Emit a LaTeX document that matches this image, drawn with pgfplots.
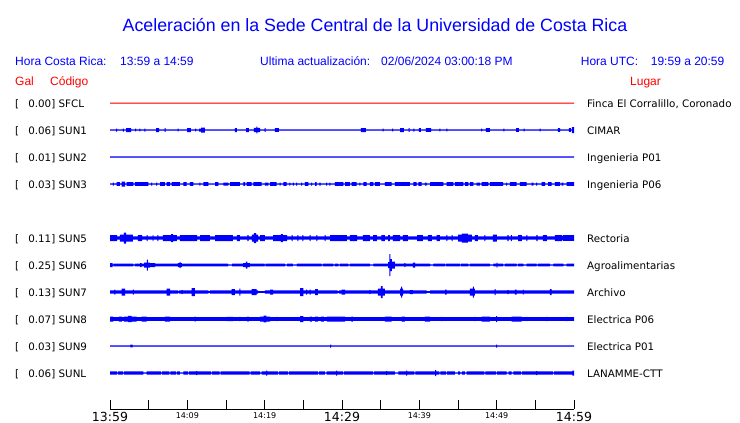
\documentclass[border=0pt]{standalone}
\usepackage{fontspec}
\setmainfont{DejaVu Sans}
\newfontfamily\helv{Liberation Sans}
\usepackage{pgfplots}
\usepackage{pgfplotstable}
\pgfplotsset{compat=1.18}

% half width of each trace (px) from time t (min) on, held until the next row
\pgfplotstableread{
t a
0 0.5
60 0.5
}\tsfcl
\pgfplotstableread{
t a
0 0.65
0.80 1.5
0.93 0.65
1.66 1.5
1.78 0.65
2.07 2
2.72 0.65
3.26 1.3
3.39 0.65
3.81 1.3
3.94 0.65
4.46 1.5
4.59 0.65
5.95 2
6.34 0.65
7.05 1.8
7.18 0.65
8.73 1.3
8.86 0.65
9.96 2
10.47 0.65
11.02 1.3
11.15 0.65
11.51 1.5
11.77 2.5
12.28 0.65
16.16 2
16.42 0.65
17.59 2
17.97 0.65
18.62 2.2
18.94 3.3
19.07 2.2
19.40 0.65
19.98 1.8
20.11 0.65
21.33 1.8
21.85 0.65
32.45 2
33.10 0.65
35.24 1.3
35.37 0.65
36.49 1.3
36.62 0.65
37.50 2
38.01 0.65
38.60 1.8
38.73 0.65
39.24 1.5
39.37 0.65
39.95 1.8
40.21 0.65
40.86 1.8
41.51 0.65
42.60 1.3
42.73 0.65
43.51 1.3
43.64 0.65
48.00 1.3
48.13 0.65
48.62 1.8
49.13 0.65
50.88 1.3
51.01 0.65
52.50 1.8
52.88 0.65
53.47 1.3
53.60 0.65
55.54 1.3
55.67 0.65
57.93 1.8
58.19 0.65
59.35 1.8
59.61 0.65
59.74 3
60 3
}\tsunone
\pgfplotstableread{
t a
0 0.65
60 0.65
}\tsuntwo
\pgfplotstableread{
t a
0 0.65
0.36 1.5
0.49 0.65
0.87 1.8
1.29 0.65
1.51 2.5
1.94 0.65
2.16 1.8
3.01 0.65
3.23 1.8
4.95 0.65
5.33 1.5
5.46 0.65
5.97 1.5
6.10 0.65
6.47 1.8
7.11 0.65
7.33 1.8
7.76 0.65
7.98 1.8
9.05 0.65
9.48 1.8
9.92 0.65
10.34 1.8
10.77 0.65
11.57 1.5
11.70 0.65
12.06 1.8
12.71 0.65
13.58 1.8
14.00 0.65
14.65 1.5
15.30 0.65
15.52 1.8
16.81 0.65
17.24 1.8
17.46 0.65
17.68 1.8
18.32 0.65
18.53 1.8
19.62 0.65
20.04 1.5
20.47 0.65
20.69 1.8
21.55 0.65
21.92 1.5
22.05 0.65
22.41 1.8
22.85 0.65
23.21 1.5
23.34 0.65
23.64 1.5
23.77 0.65
24.08 1.5
24.21 0.65
24.72 1.5
24.85 0.65
25.21 1.8
25.64 0.65
26.02 1.5
26.15 0.65
26.51 1.8
26.73 0.65
27.09 1.5
27.22 0.65
27.96 1.5
28.09 0.65
28.38 1.5
28.51 0.65
29.09 1.8
30.17 0.65
30.39 1.8
31.03 0.65
31.25 1.8
31.90 0.65
32.26 1.5
32.39 0.65
32.75 1.8
33.19 0.65
33.62 1.8
34.05 0.65
34.26 1.8
34.91 0.65
35.56 1.8
36.42 0.65
36.85 1.8
38.79 0.65
39.22 1.8
39.66 0.65
39.86 1.8
40.30 0.65
40.73 1.5
40.95 0.65
41.38 1.8
43.10 0.65
43.54 1.8
44.39 0.65
44.61 1.8
45.68 0.65
45.90 1.8
46.33 0.65
46.55 1.8
46.98 0.65
47.41 1.5
47.84 0.65
48.06 1.8
48.92 0.65
49.13 1.8
50.85 0.65
51.23 1.5
51.36 0.65
51.72 1.8
52.59 0.65
53.01 1.8
53.88 0.65
54.53 1.5
54.74 0.65
55.11 1.5
55.24 0.65
55.82 1.8
56.25 0.65
56.67 1.8
57.11 0.65
57.54 1.8
58.19 0.65
58.40 1.5
58.61 0.65
59.05 1.8
60 1.8
}\tsunthree
\pgfplotstableread{
t a
0 3
0.91 1.7
1.29 3.5
1.81 5.5
2.07 3.5
2.97 1.7
3.62 3
4.14 1.7
4.72 3
4.85 1.7
5.50 3
5.62 1.7
6.14 3
6.27 1.7
6.85 3
7.89 4
8.15 3
8.66 1.7
9.05 3
11.25 1.7
11.64 3
12.93 1.7
13.58 3
15.90 1.7
16.42 3
16.81 1.7
17.78 3
17.91 1.7
18.36 3.5
18.62 5
18.88 3.5
19.14 1.7
19.40 3
20.04 1.7
21.08 3
22.11 4
22.37 3
22.89 1.7
23.47 3
23.60 1.7
24.24 3
24.37 1.7
24.89 3
25.02 1.7
25.80 3
25.93 1.7
26.70 3
26.83 1.7
27.74 3
27.87 1.7
28.45 3
30.64 1.7
31.03 3
31.94 1.7
32.71 3
33.62 1.7
34.01 3
34.52 1.7
35.10 3
35.56 1.7
35.95 3
36.20 1.7
36.59 3
37.50 1.7
37.88 3
38.53 1.7
39.70 3
40.47 1.7
41.12 3
41.63 1.7
42.22 3
42.67 1.7
43.51 3
43.64 1.7
44.16 3
44.29 1.7
45.00 3.5
45.51 4.5
46.29 3.5
46.81 1.7
47.19 3
47.58 1.7
48.42 3
48.55 1.7
49.52 3.5
50.04 1.7
51.40 3
51.53 1.7
51.85 3
51.98 1.7
52.76 3
53.27 1.7
53.85 3
53.98 1.7
55.15 3
55.28 1.7
55.99 3
56.50 1.7
57.54 3
58.44 2.2
58.57 2.8
60 2.8
}\tsunfive
\pgfplotstableread{
t a
0 2
0.35 0.6
0.43 1.3
3.01 0.6
3.23 1.3
3.88 2
4.10 1.3
4.40 2.5
4.76 5.5
4.89 2.5
5.17 2
5.82 1.3
8.79 2
8.99 3
9.12 2
9.31 1.3
15.26 0.6
15.78 1.3
17.20 2
17.58 3.5
17.78 2
18.10 1.3
19.98 0.6
20.11 1.3
22.63 0.6
22.89 1.3
23.66 0.6
24.18 1.3
27.37 0.6
27.54 1.3
28.87 0.6
29.09 1.3
29.52 0.6
29.74 1.3
30.81 0.6
31.03 1.3
33.62 0.6
34.05 1.3
35.95 3
36.14 11
36.27 6
36.46 3.5
36.85 1.3
38.08 2
38.21 1.3
39.18 2.5
39.44 1.3
41.38 0.6
41.80 1.3
43.32 0.6
43.45 1.3
45.26 0.6
45.39 1.3
46.33 0.6
46.55 1.3
49.13 0.6
49.56 1.3
49.98 2.5
50.10 1.3
50.85 0.6
51.07 1.3
52.59 0.6
52.76 1.3
53.44 0.6
53.88 1.3
55.17 0.6
55.34 1.3
56.89 0.6
57.32 1.3
58.61 0.6
59.05 1.3
60 1.3
}\tsunsix
\pgfplotstableread{
t a
0 1.7
0.58 2.5
0.71 1.7
1.51 3.5
1.94 1.7
2.97 2.5
3.10 1.7
7.33 3.5
7.76 1.7
8.79 0.8
8.92 1.7
9.25 2
9.38 1.7
10.56 4
10.99 1.7
12.71 0.8
12.93 1.7
15.74 3
16.16 1.7
16.74 3.5
16.87 1.7
18.32 3
18.97 1.7
19.14 0.8
20.04 1.7
20.69 2.5
21.08 1.7
24.57 4
24.99 1.7
25.37 2.5
25.50 1.7
25.80 2.5
25.93 1.7
26.51 3
26.89 1.7
29.42 0.8
29.61 1.7
29.96 2.5
30.39 1.7
33.55 2
33.68 1.7
34.65 3.5
35.04 6
35.24 3.5
35.56 1.7
37.50 3.5
37.65 5.5
37.78 3.5
37.92 1.7
38.79 2
39.18 1.7
40.95 0.8
41.38 1.7
43.32 2.5
43.54 1.7
46.55 3.5
46.91 5.5
47.04 3.5
47.19 1.7
49.72 3
49.85 1.7
51.40 2
51.53 1.7
52.37 2.5
52.59 1.7
53.38 2.5
53.50 1.7
56.89 3
57.11 1.7
60 1.7
}\tsunseven
\pgfplotstableread{
t a
0 2.5
0.43 1.8
1.16 2.5
1.55 1.8
1.81 2.5
2.33 3.2
2.81 2.5
3.45 1.8
4.10 2.5
4.75 1.8
7.11 2.5
7.76 1.8
10.93 2.5
11.06 1.8
15.09 2.2
15.94 1.8
16.74 2.2
16.87 1.8
17.78 2.5
17.91 1.8
19.40 2.5
19.85 3.3
20.23 2.5
20.69 1.8
21.49 2.2
21.62 1.8
24.57 3
24.99 1.8
25.86 2.5
26.12 1.8
26.51 2.5
26.89 1.8
27.28 2.5
27.67 1.8
28.06 2.5
30.39 1.8
31.22 2.5
31.42 1.8
35.56 2.5
36.42 1.8
37.72 2.5
38.14 1.8
40.73 2.5
41.38 1.8
42.82 2.2
42.95 1.8
47.13 2.2
47.26 1.8
48.06 2.5
49.13 1.8
49.93 3
50.06 1.8
51.94 2.5
53.23 1.8
53.83 2.2
53.96 1.8
56.40 2.2
56.53 1.8
58.99 2.2
59.12 1.8
60 1.8
}\tsuneight
\pgfplotstableread{
t a
0 0.65
2.65 1.3
2.91 0.65
28.47 1.5
28.60 0.65
49.93 1.5
50.06 0.65
60 0.65
}\tsunnine
\pgfplotstableread{
t a
0 1.6
0.88 0.7
1.01 1.6
1.65 0.7
1.78 1.6
4.31 0.7
4.75 1.6
6.62 0.7
6.75 1.6
7.69 0.7
7.82 1.6
8.56 0.7
8.69 1.6
9.05 0.7
9.48 1.6
10.06 0.7
10.19 1.6
11.15 2
11.28 1.6
13.09 0.7
13.21 1.6
14.16 0.7
14.29 1.6
18.04 0.7
18.17 1.6
19.40 0.7
19.62 1.6
20.20 2.5
20.33 1.6
21.70 0.7
21.83 1.6
22.99 0.7
23.12 1.6
26.87 0.7
27.00 1.6
27.80 0.7
28.02 1.6
29.25 2.5
29.38 1.6
30.10 0.7
30.23 1.6
33.98 0.7
34.11 1.6
35.71 2
35.84 1.6
36.85 0.7
37.28 1.6
38.30 2.5
38.43 1.6
39.37 0.7
39.50 1.6
42.05 3
42.18 1.6
42.60 0.7
42.73 1.6
43.47 0.7
43.60 1.6
44.61 0.7
45.00 1.6
45.26 0.7
45.51 1.6
45.90 0.7
46.12 1.6
48.42 0.7
48.55 1.6
49.93 0.7
50.06 1.6
51.29 0.7
51.53 1.6
51.92 0.7
52.15 1.6
53.16 0.7
53.29 1.6
55.11 2
55.24 1.6
57.28 0.7
57.41 1.6
59.80 2.5
60 2.5
}\tsunl

% one strip axis per station, centred on its row (pt from the top)
\pgfplotsset{strip/.style={at={(110pt,-#1pt)}, anchor=west, scale only axis,
  width=464pt, height=27pt, xmin=0, xmax=60, ymin=-13.5, ymax=13.5,
  axis lines=none, clip=false}}
\newcommand\trace[3]{%
  \begin{axis}[strip=#2]
  \addplot[fill=#3, draw=none, const plot] table[x=t, y=a] {#1} \closedcycle;
  \addplot[fill=#3, draw=none, const plot] table[x=t, y expr=-\thisrow{a}] {#1} \closedcycle;
  \end{axis}}
\newcommand\bigt[1]{{\fontsize{12.5}{12.5}\selectfont #1}}
\newcommand\smt[1]{\raisebox{2.3pt}{\fontsize{8}{8}\selectfont #1}}

\begin{document}
\begin{tikzpicture}
\path[use as bounding box] (0pt,0pt) rectangle (740pt,-423pt);
\begin{axis}[
  at={(110pt,-409pt)}, anchor=south west, scale only axis,
  width=464pt, height=319pt,
  xmin=0, xmax=60, ymin=0, ymax=1,
  axis x line=bottom, axis y line=none,
  x axis line style={-, line width=1pt, black},
  xtick={0,5,...,60},
  xticklabels={\bigt{13:59},,\smt{14:09},,\smt{14:19},,\bigt{14:29},,\smt{14:39},,\smt{14:49},,\bigt{14:59}},
  xticklabel style={anchor=base, inner sep=0pt, yshift=-12pt},
  tick align=inside, major tick length=9pt,
  tick style={black, line width=1pt},
  ytick=\empty,
]
\end{axis}
\trace{\tsfcl}{103}{red}
\trace{\tsunone}{130}{blue}
\trace{\tsuntwo}{157}{blue}
\trace{\tsunthree}{184}{blue}
\trace{\tsunfive}{238}{blue}
\trace{\tsunsix}{265}{blue}
\trace{\tsunseven}{292}{blue}
\trace{\tsuneight}{319}{blue}
\trace{\tsunnine}{346}{blue}
\trace{\tsunl}{373}{blue}

\node[font=\helv\fontsize{17.8}{20}\selectfont, text=blue, anchor=base, inner sep=0pt] at (375pt,-31pt) {Aceleración en la Sede Central de la Universidad de Costa Rica};

\begin{scope}[every node/.style={font=\helv\fontsize{12}{14}\selectfont, inner sep=0pt, anchor=base west}]
\node[text=blue] at (15pt,-65.7pt) {Hora Costa Rica:};
\node[text=blue] at (120pt,-65.7pt) {13:59 a 14:59};
\node[text=blue] at (260pt,-65.7pt) {Ultima actualización:};
\node[text=blue] at (381pt,-65.7pt) {02/06/2024 03:00:18 PM};
\node[text=blue] at (580.7pt,-65.7pt) {Hora UTC:};
\node[text=blue] at (650.7pt,-65.7pt) {19:59 a 20:59};
\node[text=red] at (15pt,-85pt) {Gal};
\node[text=red] at (50pt,-85pt) {Código};
\node[text=red] at (630pt,-85pt) {Lugar};
\end{scope}

\begin{scope}[every node/.style={font=\fontsize{10.3}{12}\selectfont, inner sep=0pt}]
\foreach \r/\g/\c/\n in {103/0.00/SFCL/{Finca El Corralillo, Coronado},
                         130/0.06/SUN1/CIMAR,
                         157/0.01/SUN2/Ingenieria P01,
                         184/0.03/SUN3/Ingenieria P06,
                         238/0.11/SUN5/Rectoria,
                         265/0.25/SUN6/Agroalimentarias,
                         292/0.13/SUN7/Archivo,
                         319/0.07/SUN8/Electrica P06,
                         346/0.03/SUN9/Electrica P01,
                         373/0.06/SUNL/LANAMME-CTT} {
  \node[anchor=base west] at (15pt,-\r pt-4.3pt) {[};
  \node[anchor=base east] at (55.5pt,-\r pt-4.3pt) {\g]};
  \node[anchor=base west] at (58.5pt,-\r pt-4.3pt) {\c};
  \node[anchor=base west] at (587pt,-\r pt-4.3pt) {\n};
}
\end{scope}
\end{tikzpicture}
\end{document}
